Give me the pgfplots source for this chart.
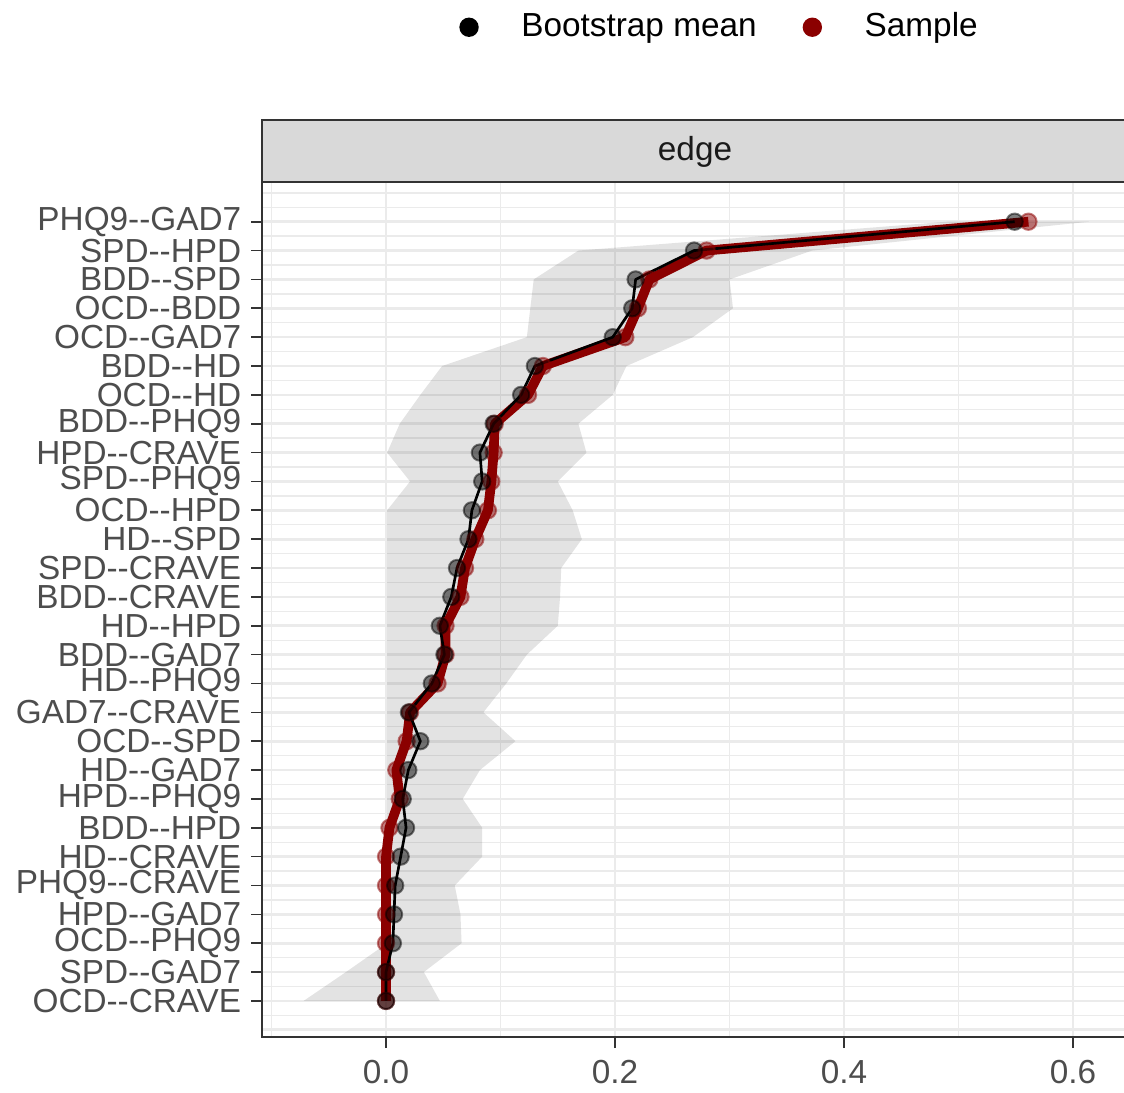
\documentclass[border=0pt]{standalone}
\usepackage{fontspec}
\setmainfont{Liberation Sans}
\usepackage{pgfplots}
\usepackage{pgfplotstable}
\usepgfplotslibrary{fillbetween}
\pgfplotsset{compat=1.18}

\definecolor{gridgray}{HTML}{EBEBEB}
\definecolor{gray20}{HTML}{333333}
\definecolor{gray30}{HTML}{4D4D4D}
\definecolor{gray10}{HTML}{1A1A1A}
\definecolor{stripgray}{HTML}{D9D9D9}
\definecolor{samplered}{HTML}{8B0000}

% row: position from the top; boot = bootstrap mean; sample; lo/hi = CI band
\pgfplotstableread{
row boot   sample lo     hi
1   0.549  0.561  0.490  0.614
2   0.269  0.280  0.168  0.372
3   0.218  0.230  0.129  0.300
4   0.215  0.220  0.126  0.303
5   0.198  0.209  0.123  0.268
6   0.130  0.137  0.049  0.210
7   0.118  0.124  0.030  0.198
8   0.094  0.095  0.012  0.168
9   0.082  0.094  0.001  0.175
10  0.084  0.092  0.021  0.150
11  0.075  0.089  0.001  0.163
12  0.072  0.078  0.001  0.171
13  0.062  0.069  0.001  0.153
14  0.057  0.065  0.001  0.152
15  0.047  0.052  0.001  0.150
16  0.051  0.052  0.001  0.123
17  0.040  0.045  0.001  0.105
18  0.020  0.021  0.001  0.085
19  0.030  0.018  0.001  0.113
20  0.0195 0.009  0.001  0.082
21  0.0146 0.012  0.001  0.067
22  0.0175 0.003  0.001  0.084
23  0.0128 0.000  0.001  0.084
24  0.008  0.000  0.001  0.060
25  0.007  0.000  0.001  0.065
26  0.006  0.000  0.001  0.066
27  0.000  0.000  -0.035 0.033
28  0.000  0.000  -0.072 0.047
}\edges

\newcommand{\dd}{-{}-}

\begin{document}
\begin{tikzpicture}
\begin{axis}[
    name=ax,
    at={(78.6pt,16.5pt)}, anchor=south west,
    scale only axis,
    width=259.8pt, height=256.5pt,
    xmin=-0.1083, xmax=0.648,
    ymin=-0.376, ymax=29.25,
    y dir=reverse,
    xtick={0,0.2,0.4,0.6},
    minor xtick={-0.1,0.1,0.3,0.5},
    ytick={1,...,28},
    minor ytick={0.5,1.5,...,28.5},
    extra y ticks={0,29},
    extra y tick labels={},
    extra y tick style={major tick length=0pt, grid=major},
    yticklabels={PHQ9\dd GAD7, SPD\dd HPD, BDD\dd SPD, OCD\dd BDD, OCD\dd GAD7,
        BDD\dd HD, OCD\dd HD, BDD\dd PHQ9, HPD\dd CRAVE, SPD\dd PHQ9, OCD\dd HPD,
        HD\dd SPD, SPD\dd CRAVE, BDD\dd CRAVE, HD\dd HPD, BDD\dd GAD7, HD\dd PHQ9,
        GAD7\dd CRAVE, OCD\dd SPD, HD\dd GAD7, HPD\dd PHQ9, BDD\dd HPD, HD\dd CRAVE,
        PHQ9\dd CRAVE, HPD\dd GAD7, OCD\dd PHQ9, SPD\dd GAD7, OCD\dd CRAVE},
    grid=both,
    major grid style={gridgray, line width=0.8pt},
    minor grid style={gridgray, line width=0.4pt},
    axis line style={gray20, line width=0.5pt},
    tick align=outside,
    xtick pos=bottom, ytick pos=left,
    major tick length=3.3pt, minor tick length=0pt,
    tick style={gray20, line width=0.5pt},
    ticklabel style={font=\fontsize{10}{12}\selectfont, text=gray30},
    yticklabel style={inner ysep=0pt, xshift=0.6pt},
    xticklabel style={/pgf/number format/.cd, fixed, fixed zerofill, precision=1, assume math mode=true},
    legend style={at={(0.531,1.181)}, anchor=center, draw=none, fill=none,
        legend columns=2, font=\fontsize{10}{12}\selectfont,
        /tikz/every odd column/.append style={column sep=10.8pt},
        /tikz/every even column/.append style={column sep=11.8pt}},
    legend cell align=left,
]
\addplot[draw=none, name path=lo, forget plot] table[x=lo, y=row] {\edges};
\addplot[draw=none, name path=hi, forget plot] table[x=hi, y=row] {\edges};
\addplot[fill=black, fill opacity=0.11, draw=none, forget plot] fill between[of=lo and hi];

\addplot[samplered, line width=2.9pt, line join=round, forget plot] table[x=sample, y=row] {\edges};
\addplot[black, line width=0.8pt, line join=round, forget plot] table[x=boot, y=row] {\edges};

\addplot[only marks, mark=*, mark size=2.45pt,
    mark options={draw=samplered, fill=samplered, opacity=0.5, line width=0.6pt}, forget plot]
    table[x=sample, y=row] {\edges};
\addplot[only marks, mark=*, mark size=2.45pt,
    mark options={draw=black, fill=black, opacity=0.5, line width=0.6pt}, forget plot]
    table[x=boot, y=row] {\edges};

\addlegendimage{legend image code/.code={\fill[black] (0pt,0pt) circle (2.7pt);}}
\addlegendentry{Bootstrap mean}
\addlegendimage{legend image code/.code={\fill[samplered] (0pt,0pt) circle (2.7pt);}}
\addlegendentry{Sample}
\end{axis}
\draw[gray20, line width=0.5pt, fill=stripgray] (ax.north west) rectangle ([xshift=5pt, yshift=18.6pt]ax.north east);
\node[font=\fontsize{10}{12}\selectfont, text=gray10] at ([yshift=9.0pt]ax.north) {edge};
\pgfresetboundingbox
\useasboundingbox (0,0) rectangle (337.2pt,327.6pt);
\end{tikzpicture}
\end{document}
